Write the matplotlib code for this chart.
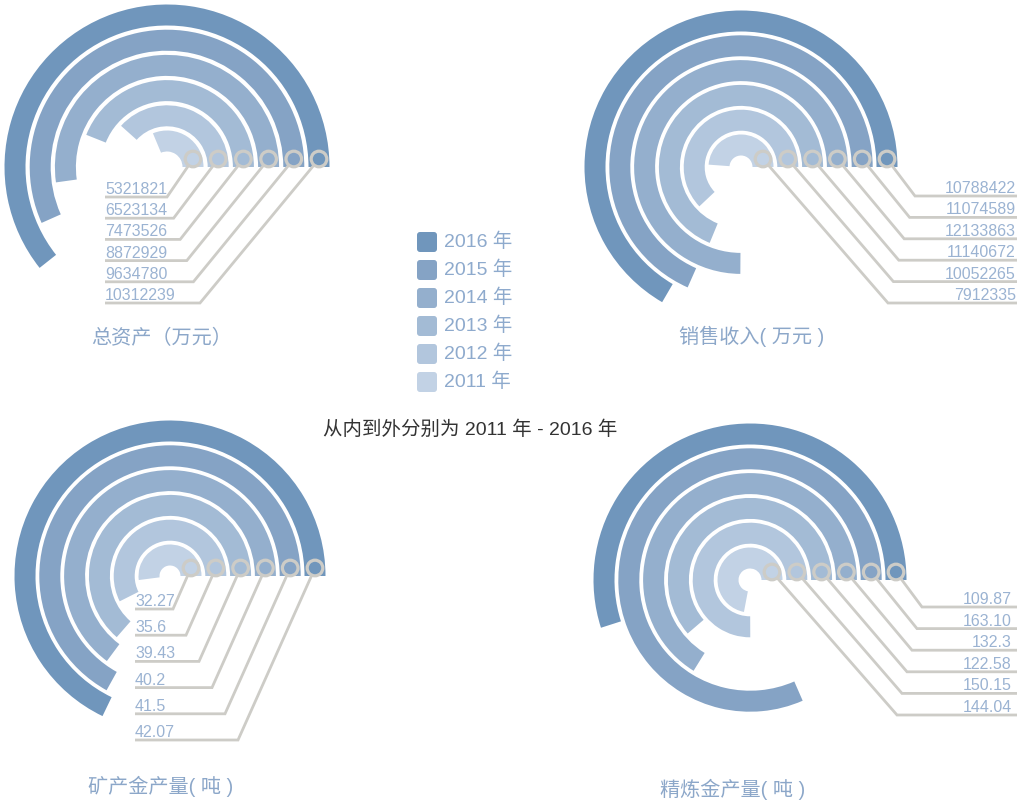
import numpy as np
import matplotlib
matplotlib.use('Agg')
import matplotlib.pyplot as plt
from matplotlib.patches import Wedge, Circle, FancyBboxPatch

# Latin digits from Liberation Sans (Arial metrics), CJK from Noto
plt.rcParams['font.family'] = ['Liberation Sans', 'Noto Sans CJK SC', 'DejaVu Sans']

# ---- data (2011 -> 2016, inner ring -> outer ring) ----
years = ['2011 年', '2012 年', '2013 年', '2014 年', '2015 年', '2016 年']
total_assets = ['5321821', '6523134', '7473526', '8872929', '9634780', '10312239']
sales_income = ['7912335', '10052265', '11140672', '12133863', '11074589', '10788422']
mine_gold = ['32.27', '35.6', '39.43', '40.2', '41.5', '42.07']
refined_gold = ['144.04', '150.15', '122.58', '132.3', '163.10', '109.87']
titles = ['总资产（万元）', '销售收入( 万元 )', '矿产金产量( 吨 )', '精炼金产量( 吨 )']
subtitle = '从内到外分别为 2011 年 - 2016 年'

ring_colors = ['#c2d2e5', '#b2c6dd', '#a3bbd5', '#94afcd', '#85a3c5', '#7096bc']
line_color = '#cdccc7'
label_color = '#9bb3d2'
title_color = '#8ca7c9'

W, H = 1017, 801
fig = plt.figure(figsize=(W / 100, H / 100), dpi=100)
ax = fig.add_axes([0, 0, 1, 1])
ax.set_xlim(0, W)
ax.set_ylim(0, H)
ax.set_aspect('equal')
ax.axis('off')


def py(y):
    # pixel row (from top) -> data y
    return H - y


# layout of each small chart (full = value that would close the circle)
charts = [
    dict(values=total_assets, title=titles[0], full=17.0e6, cx=167, cy=167, r0=26, dr=25.2,
         side='left', label_x=105, row_y=197, row_dy=21.2, bend0=167, bend_dx=6.6, title_xy=(162, 338)),
    dict(values=sales_income, title=titles[1], full=16.2e6, cx=741, cy=167, r0=22, dr=24.8,
         side='right', label_x=1017, row_y=196, row_dy=21.4, bend0=915, bend_dx=-5.4, title_xy=(752, 336)),
    dict(values=mine_gold, title=titles[2], full=62.0, cx=170, cy=576, r0=21, dr=24.8,
         side='left', label_x=135, row_y=609, row_dy=26.2, bend0=173, bend_dx=13.0, title_xy=(161, 786)),
    dict(values=refined_gold, title=titles[3], full=200.0, cx=750, cy=580, r0=22, dr=24.8,
         side='right', label_x=1013, row_y=607, row_dy=21.6, bend0=922, bend_dx=-5.0, title_xy=(733, 789)),
]

band = 21
for c in charts:
    cx, cy = c['cx'], py(c['cy'])
    for i, s in enumerate(c['values']):
        v = float(s)
        r = c['r0'] + c['dr'] * i
        sweep = v / c['full'] * 360.0
        ax.add_patch(Wedge((cx, cy), r + band / 2, 0, sweep, width=band,
                           facecolor=ring_colors[i], edgecolor='none', zorder=1))

        # leader line + value label
        k = i if c['side'] == 'left' else 5 - i
        ly = c['row_y'] + c['row_dy'] * k
        bx = c['bend0'] + c['bend_dx'] * k
        mx, my = cx + r, cy + 8
        if c['side'] == 'left':
            xs = [mx, bx, c['label_x']]
            ha, tx = 'left', c['label_x']
        else:
            xs = [mx, bx, W]
            ha, tx = 'right', c['label_x'] - 1
        ax.plot(xs, [my, py(ly), py(ly)], color=line_color, lw=2.0,
                solid_capstyle='butt', solid_joinstyle='miter', zorder=2)
        ax.text(tx, py(ly - 3), s, ha=ha, va='baseline', fontsize=11.5,
                color=label_color, zorder=4)
        ax.add_patch(Circle((mx, my), 7.8, facecolor=ring_colors[i],
                            edgecolor=line_color, lw=2.3, zorder=3))

    tx, ty = c['title_xy']
    ax.text(tx, py(ty), c['title'], ha='center', va='center', fontsize=14.5,
            color=title_color)

# legend, 2016 on top
leg_y = [242, 270, 298, 326, 354, 382]
for k, i in enumerate(range(5, -1, -1)):
    ax.add_patch(FancyBboxPatch((417, py(leg_y[k]) - 10), 20, 20,
                                boxstyle='round,pad=0,rounding_size=3',
                                facecolor=ring_colors[i], edgecolor='none'))
    ax.text(444, py(leg_y[k]), years[i], ha='left', va='center', fontsize=14,
            color='#8eaacd')

ax.text(470, py(430), subtitle, ha='center', va='center', fontsize=14,
        color='#333333')

fig.savefig('out.png', dpi=100, facecolor='white')
